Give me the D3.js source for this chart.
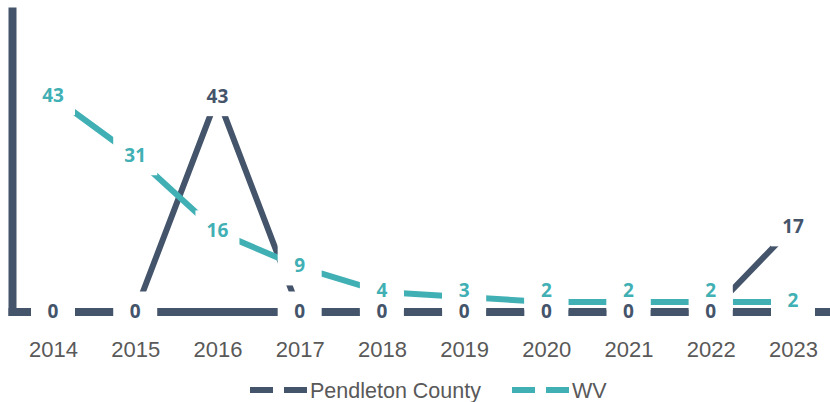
<!DOCTYPE html>
<html>
<head>
<meta charset="utf-8">
<script src="https://cdn.jsdelivr.net/npm/d3@7"></script>
<style>
  html, body { margin: 0; padding: 0; background: #fff; }
  svg { display: block; }
</style>
</head>
<body>
<svg id="chart"></svg>
<script>
// values
var years = ['2014','2015','2016','2017','2018','2019','2020','2021','2022','2023'];
var pendleton = [0, 0, 43, 0, 0, 0, 0, 0, 0, 17];
var wv = [43, 31, 16, 9, 4, 3, 2, 2, 2, 2];
var seriesNames = ['Pendleton County', 'WV'];
var seriesColors = ['#44546A', '#41B0B4'];

const w = 830;
const h = 402;
const slate = seriesColors[0];
const teal = seriesColors[1];
const tickGrey = '#595959';
const textFont = '"Liberation Sans", Arial, sans-serif';

const svg = d3.select('#chart').attr('width', w).attr('height', h);

var xScale = d3.scalePoint()
  .domain(years)
  .range([53, 793]);

var yScale = d3.scaleLinear()
  .domain([0, 60])
  .range([312, 11.5]);

const zeroY = yScale(0);

// axes (thick slate lines, like the original)
svg.append('line')
  .attr('x1', 12.5).attr('x2', 12.5)
  .attr('y1', yScale(60)).attr('y2', zeroY)
  .attr('stroke', slate).attr('stroke-width', 8)
  .attr('stroke-linecap', 'square');

svg.append('line')
  .attr('x1', 12.5).attr('x2', 840)
  .attr('y1', zeroY).attr('y2', zeroY)
  .attr('stroke', slate).attr('stroke-width', 8)
  .attr('stroke-linecap', 'square');

const xAxis = d3.axisBottom(xScale).tickSize(0).tickPadding(0);
const gx = svg.append('g')
  .attr('transform', 'translate(0,' + 349 + ')')
  .call(xAxis);
gx.select('.domain').remove();
gx.selectAll('text')
  .attr('dy', '0.35em')
  .attr('fill', tickGrey)
  .style('font-family', textFont)
  .style('font-size', '22px');

// lines
var line = d3.line()
  .x(function(d, i){ return xScale(years[i]); })
  .y(function(d){ return yScale(d); });

svg.append('path')
  .datum(pendleton)
  .attr('d', line)
  .attr('fill', 'none')
  .attr('stroke', slate)
  .attr('stroke-width', 6)
  .attr('stroke-linejoin', 'round');

svg.append('path')
  .datum(wv)
  .attr('d', line)
  .attr('fill', 'none')
  .attr('stroke', teal)
  .attr('stroke-width', 6)
  .attr('stroke-linejoin', 'round');

// data labels with white boxes behind them
var labels = [];
pendleton.forEach(function(v, i){
  labels.push({ x: xScale(years[i]), y: yScale(v) - 0.5, text: v, color: slate });
});
wv.forEach(function(v, i){
  var y = yScale(v) - 1.5;
  if (pendleton[i] === 0) y = Math.min(y, zeroY - 22);
  labels.push({ x: xScale(years[i]), y: y, text: v, color: teal });
});

svg.append('g').selectAll('rect')
  .data(labels)
  .join('rect')
  .attr('x', function(d){ return d.x - 22; })
  .attr('y', function(d){ return d.y - 20; })
  .attr('width', 44)
  .attr('height', 40)
  .attr('fill', '#fff');

svg.append('g').selectAll('text')
  .data(labels)
  .join('text')
  .attr('x', function(d){ return d.x; })
  .attr('y', function(d){ return d.y; })
  .attr('dy', '0.36em')
  .attr('text-anchor', 'middle')
  .attr('fill', function(d){ return d.color; })
  .style('font-family', '"Open Sans", sans-serif')
  .style('font-weight', 700)
  .style('font-size', '19px')
  .text(function(d){ return d.text; });

// legend
const legendX = [250, 512];
const legendY = 390;
const legend = svg.append('g');
seriesNames.forEach(function(name, i){
  legend.append('line')
    .attr('x1', legendX[i]).attr('x2', legendX[i] + 58)
    .attr('y1', legendY).attr('y2', legendY)
    .attr('stroke', seriesColors[i])
    .attr('stroke-width', 6)
    .attr('stroke-dasharray', '23,11');
  legend.append('text')
    .attr('x', legendX[i] + 60)
    .attr('y', legendY)
    .attr('dy', '0.35em')
    .attr('fill', tickGrey)
    .style('font-family', textFont)
    .style('font-size', '21.5px')
    .text(name);
});
</script>
</body>
</html>
